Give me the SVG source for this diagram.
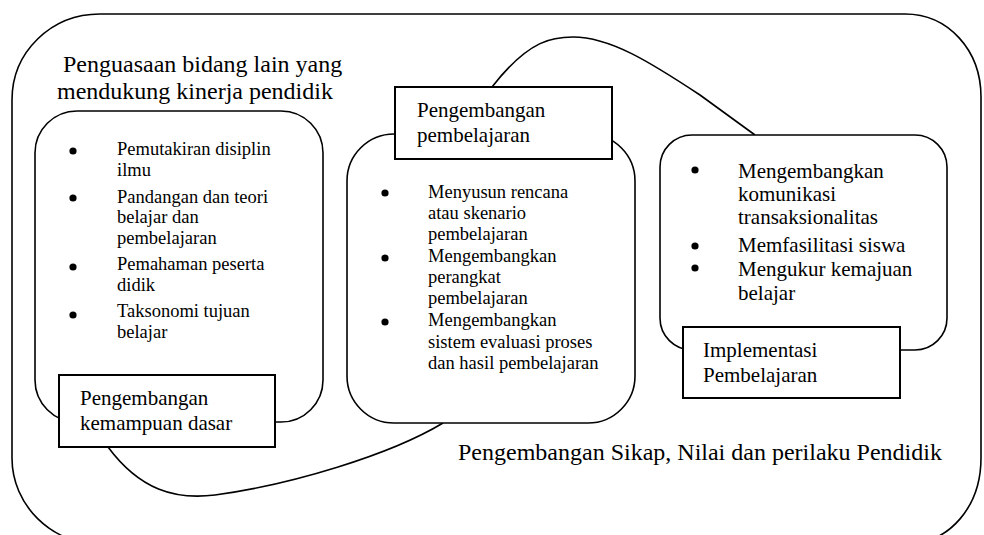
<svg xmlns="http://www.w3.org/2000/svg" width="984" height="535" viewBox="0 0 984 535">
<style>
text{font-family:"Liberation Serif","Times New Roman",serif;fill:#000}
.t24{font-size:24px}
.t21{font-size:21px}
.t18{font-size:18.5px}
.shape{fill:none;stroke:#000;stroke-width:1.6}
.rbox{fill:#fff;stroke:#000;stroke-width:1.6}
.lbox{fill:#fff;stroke:#000;stroke-width:2}
.conn{fill:none;stroke:#000;stroke-width:1.6}
.dot{fill:#000}
</style>
<rect width="984" height="535" fill="#fff"/>
<g id="outer">
<path class="shape" d="M12,100 C12,52 51,14 100,14 L905,14 C948,14 981,50 981,97 L981,458 C981,505 951,544 905,544 L100,544 C51,544 12,505 12,458 Z"/>
<text class="t24" x="63" y="72">Penguasaan bidang lain yang</text>
<text class="t24" x="57" y="99">mendukung kinerja pendidik</text>
<text class="t24" x="458" y="460">Pengembangan Sikap, Nilai dan perilaku Pendidik</text>
</g>
<g id="connectors">
<path class="conn" d="M492,87 C530,38 555,37 573,37 C610,37 650,62 700,95 L755,135"/>
<path class="conn" d="M108,447 C140,490 175,500 215,495 C290,485 390,455 443,423"/>
</g>
<g id="node-left">
<rect class="rbox" x="35" y="111" width="288" height="311" rx="42" ry="42"/>
<circle class="dot" cx="73" cy="151" r="3.6"/>
<circle class="dot" cx="73" cy="198" r="3.6"/>
<circle class="dot" cx="73" cy="267" r="3.6"/>
<circle class="dot" cx="73" cy="315" r="3.6"/>
<text class="t18" x="117" y="155">Pemutakiran disiplin</text>
<text class="t18" x="117" y="175.5">ilmu</text>
<text class="t18" x="117" y="203">Pandangan dan teori</text>
<text class="t18" x="117" y="223">belajar dan</text>
<text class="t18" x="117" y="243.5">pembelajaran</text>
<text class="t18" x="117" y="270">Pemahaman peserta</text>
<text class="t18" x="117" y="290.5">didik</text>
<text class="t18" x="117" y="317">Taksonomi tujuan</text>
<text class="t18" x="117" y="337.5">belajar</text>
<rect class="lbox" x="59" y="375" width="216" height="72"/>
<text class="t21" x="80" y="405">Pengembangan</text>
<text class="t21" x="80" y="430">kemampuan dasar</text>
</g>
<g id="node-middle">
<rect class="rbox" x="347" y="134" width="288" height="289" rx="47" ry="47"/>
<circle class="dot" cx="385" cy="193" r="3.6"/>
<circle class="dot" cx="385" cy="258" r="3.6"/>
<circle class="dot" cx="385" cy="322" r="3.6"/>
<text class="t18" x="428" y="198">Menyusun rencana</text>
<text class="t18" x="428" y="219">atau skenario</text>
<text class="t18" x="428" y="240">pembelajaran</text>
<text class="t18" x="428" y="262">Mengembangkan</text>
<text class="t18" x="428" y="283">perangkat</text>
<text class="t18" x="428" y="304">pembelajaran</text>
<text class="t18" x="428" y="326">Mengembangkan</text>
<text class="t18" x="428" y="348">sistem evaluasi proses</text>
<text class="t18" x="428" y="369">dan hasil pembelajaran</text>
<rect class="lbox" x="395" y="87" width="217" height="72"/>
<text class="t21" x="417" y="117">Pengembangan</text>
<text class="t21" x="417" y="142">pembelajaran</text>
</g>
<g id="node-right">
<rect class="rbox" x="660" y="135" width="287" height="215" rx="32" ry="32"/>
<circle class="dot" cx="695" cy="170" r="3.6"/>
<circle class="dot" cx="695" cy="246" r="3.6"/>
<circle class="dot" cx="695" cy="268" r="3.6"/>
<text class="t21" x="738" y="178">Mengembangkan</text>
<text class="t21" x="738" y="201">komunikasi</text>
<text class="t21" x="738" y="224">transaksionalitas</text>
<text class="t21" x="738" y="252">Memfasilitasi siswa</text>
<text class="t21" x="738" y="276">Mengukur kemajuan</text>
<text class="t21" x="738" y="300">belajar</text>
<rect class="lbox" x="683" y="327" width="217" height="71"/>
<text class="t21" x="703" y="357">Implementasi</text>
<text class="t21" x="703" y="382">Pembelajaran</text>
</g>
</svg>
